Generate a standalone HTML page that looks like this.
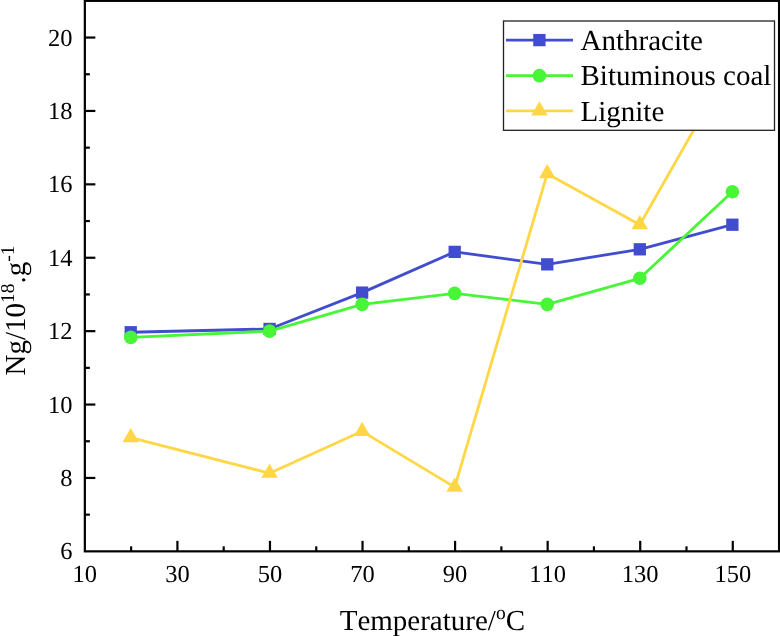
<!DOCTYPE html>
<html><head><meta charset="utf-8"><title>chart</title>
<style>
html,body{margin:0;padding:0;background:#fff;}
body{width:780px;height:636px;overflow:hidden;font-family:"Liberation Serif",serif;}
svg{display:block;will-change:transform;}
text{font-family:"Liberation Serif",serif;fill:#000;font-kerning:none;text-rendering:geometricPrecision;}
</style></head><body>
<svg width="780" height="636" viewBox="0 0 780 636">
<rect width="780" height="636" fill="#fff"/>
<g transform="translate(-0.4,0)">
<polyline points="131.13,332.25 269.97,328.95 362.53,292.61 455.09,251.88 547.65,264.36 640.21,249.31 732.77,224.72" fill="none" stroke="#414ccf" stroke-width="2.8" stroke-linejoin="round"/>
<rect x="124.98" y="326.10" width="12.3" height="12.3" fill="#414ccf"/>
<rect x="263.82" y="322.80" width="12.3" height="12.3" fill="#414ccf"/>
<rect x="356.38" y="286.46" width="12.3" height="12.3" fill="#414ccf"/>
<rect x="448.94" y="245.73" width="12.3" height="12.3" fill="#414ccf"/>
<rect x="541.50" y="258.21" width="12.3" height="12.3" fill="#414ccf"/>
<rect x="634.06" y="243.16" width="12.3" height="12.3" fill="#414ccf"/>
<rect x="726.62" y="218.57" width="12.3" height="12.3" fill="#414ccf"/>
<polyline points="131.13,337.39 269.97,331.15 362.53,304.36 455.09,293.35 547.65,304.36 640.21,278.30 732.77,191.69" fill="none" stroke="#48f537" stroke-width="2.8" stroke-linejoin="round"/>
<circle cx="131.13" cy="337.39" r="6.8" fill="#48f537"/>
<circle cx="269.97" cy="331.15" r="6.8" fill="#48f537"/>
<circle cx="362.53" cy="304.36" r="6.8" fill="#48f537"/>
<circle cx="455.09" cy="293.35" r="6.8" fill="#48f537"/>
<circle cx="547.65" cy="304.36" r="6.8" fill="#48f537"/>
<circle cx="640.21" cy="278.30" r="6.8" fill="#48f537"/>
<circle cx="732.77" cy="191.69" r="6.8" fill="#48f537"/>
<polyline points="131.13,437.58 269.97,473.18 362.53,431.34 455.09,487.12 547.65,173.71 640.21,224.72 732.77,62.14" fill="none" stroke="#ffd746" stroke-width="2.8" stroke-linejoin="round"/>
<polygon points="131.13,427.98 139.38,442.18 122.88,442.18" fill="#ffd746"/>
<polygon points="269.97,463.58 278.22,477.78 261.72,477.78" fill="#ffd746"/>
<polygon points="362.53,421.74 370.78,435.94 354.28,435.94" fill="#ffd746"/>
<polygon points="455.09,477.52 463.34,491.73 446.84,491.73" fill="#ffd746"/>
<polygon points="547.65,164.11 555.90,178.31 539.40,178.31" fill="#ffd746"/>
<polygon points="640.21,215.12 648.46,229.32 631.96,229.32" fill="#ffd746"/>
<polygon points="732.77,52.54 741.02,66.74 724.52,66.74" fill="#ffd746"/>
</g>
<rect x="84.85" y="0.85" width="694.20" height="550.50" fill="none" stroke="#000" stroke-width="2.2"/>
<line x1="84.85" y1="514.65" x2="89.85" y2="514.65" stroke="#000" stroke-width="2.2"/>
<line x1="84.85" y1="477.95" x2="95.35" y2="477.95" stroke="#000" stroke-width="2.2"/>
<line x1="84.85" y1="441.25" x2="89.85" y2="441.25" stroke="#000" stroke-width="2.2"/>
<line x1="84.85" y1="404.55" x2="95.35" y2="404.55" stroke="#000" stroke-width="2.2"/>
<line x1="84.85" y1="367.85" x2="89.85" y2="367.85" stroke="#000" stroke-width="2.2"/>
<line x1="84.85" y1="331.15" x2="95.35" y2="331.15" stroke="#000" stroke-width="2.2"/>
<line x1="84.85" y1="294.45" x2="89.85" y2="294.45" stroke="#000" stroke-width="2.2"/>
<line x1="84.85" y1="257.75" x2="95.35" y2="257.75" stroke="#000" stroke-width="2.2"/>
<line x1="84.85" y1="221.05" x2="89.85" y2="221.05" stroke="#000" stroke-width="2.2"/>
<line x1="84.85" y1="184.35" x2="95.35" y2="184.35" stroke="#000" stroke-width="2.2"/>
<line x1="84.85" y1="147.65" x2="89.85" y2="147.65" stroke="#000" stroke-width="2.2"/>
<line x1="84.85" y1="110.95" x2="95.35" y2="110.95" stroke="#000" stroke-width="2.2"/>
<line x1="84.85" y1="74.25" x2="89.85" y2="74.25" stroke="#000" stroke-width="2.2"/>
<line x1="84.85" y1="37.55" x2="95.35" y2="37.55" stroke="#000" stroke-width="2.2"/>
<line x1="131.13" y1="551.35" x2="131.13" y2="546.35" stroke="#000" stroke-width="2.2"/>
<line x1="177.41" y1="551.35" x2="177.41" y2="540.85" stroke="#000" stroke-width="2.2"/>
<line x1="223.69" y1="551.35" x2="223.69" y2="546.35" stroke="#000" stroke-width="2.2"/>
<line x1="269.97" y1="551.35" x2="269.97" y2="540.85" stroke="#000" stroke-width="2.2"/>
<line x1="316.25" y1="551.35" x2="316.25" y2="546.35" stroke="#000" stroke-width="2.2"/>
<line x1="362.53" y1="551.35" x2="362.53" y2="540.85" stroke="#000" stroke-width="2.2"/>
<line x1="408.81" y1="551.35" x2="408.81" y2="546.35" stroke="#000" stroke-width="2.2"/>
<line x1="455.09" y1="551.35" x2="455.09" y2="540.85" stroke="#000" stroke-width="2.2"/>
<line x1="501.37" y1="551.35" x2="501.37" y2="546.35" stroke="#000" stroke-width="2.2"/>
<line x1="547.65" y1="551.35" x2="547.65" y2="540.85" stroke="#000" stroke-width="2.2"/>
<line x1="593.93" y1="551.35" x2="593.93" y2="546.35" stroke="#000" stroke-width="2.2"/>
<line x1="640.21" y1="551.35" x2="640.21" y2="540.85" stroke="#000" stroke-width="2.2"/>
<line x1="686.49" y1="551.35" x2="686.49" y2="546.35" stroke="#000" stroke-width="2.2"/>
<line x1="732.77" y1="551.35" x2="732.77" y2="540.85" stroke="#000" stroke-width="2.2"/>
<text x="72.6" y="559.35" font-size="24.5" text-anchor="end">6</text>
<text x="72.6" y="485.95" font-size="24.5" text-anchor="end">8</text>
<text x="72.6" y="412.55" font-size="24.5" text-anchor="end">10</text>
<text x="72.6" y="339.15" font-size="24.5" text-anchor="end">12</text>
<text x="72.6" y="265.75" font-size="24.5" text-anchor="end">14</text>
<text x="72.6" y="192.35" font-size="24.5" text-anchor="end">16</text>
<text x="72.6" y="118.95" font-size="24.5" text-anchor="end">18</text>
<text x="72.6" y="45.55" font-size="24.5" text-anchor="end">20</text>
<text x="84.85" y="581.6" font-size="24.5" text-anchor="middle">10</text>
<text x="177.41" y="581.6" font-size="24.5" text-anchor="middle">30</text>
<text x="269.97" y="581.6" font-size="24.5" text-anchor="middle">50</text>
<text x="362.53" y="581.6" font-size="24.5" text-anchor="middle">70</text>
<text x="455.09" y="581.6" font-size="24.5" text-anchor="middle">90</text>
<text x="547.65" y="581.6" font-size="24.5" text-anchor="middle">110</text>
<text x="640.21" y="581.6" font-size="24.5" text-anchor="middle">130</text>
<text x="732.77" y="581.6" font-size="24.5" text-anchor="middle">150</text>
<text x="339.7" y="629.5" font-size="29">Temperature/<tspan font-size="19.5" dy="-11">o</tspan><tspan dy="11">C</tspan></text>
<text transform="translate(25.3,375.5) rotate(-90)" font-size="29">Ng/10<tspan font-size="19.5" dy="-11.6">18</tspan><tspan dy="11.6">.g</tspan><tspan font-size="19.5" dy="-11.6">-1</tspan></text>
<rect x="503.5" y="21.0" width="271" height="109.3" fill="#fff" stroke="#222" stroke-width="1.3"/>
<line x1="506.0" y1="40.1" x2="573.0" y2="40.1" stroke="#414ccf" stroke-width="2.8"/>
<rect x="533.25" y="33.95" width="12.3" height="12.3" fill="#414ccf"/>
<text x="580.5" y="49.80" font-size="29">Anthracite</text>
<line x1="506.0" y1="75.6" x2="573.0" y2="75.6" stroke="#48f537" stroke-width="2.8"/>
<circle cx="539.40" cy="75.60" r="6.8" fill="#48f537"/>
<text x="580.5" y="85.30" font-size="29">Bituminous coal</text>
<line x1="506.0" y1="110.9" x2="573.0" y2="110.9" stroke="#ffd746" stroke-width="2.8"/>
<polygon points="539.40,101.30 547.65,115.50 531.15,115.50" fill="#ffd746"/>
<text x="580.5" y="120.60" font-size="29">Lignite</text>
</svg>
</body></html>
